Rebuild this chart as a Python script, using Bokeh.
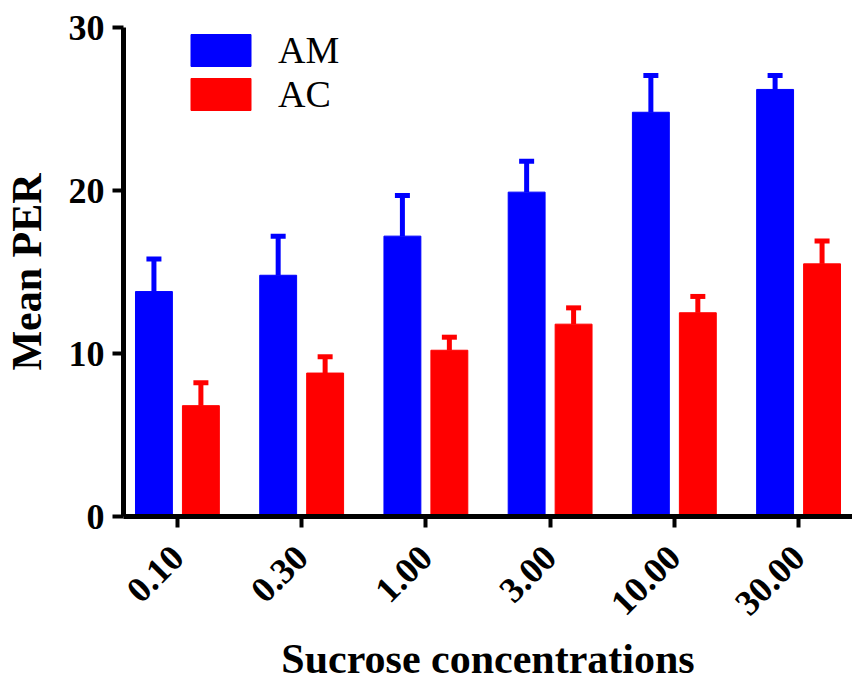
from bokeh.plotting import figure
from bokeh.models import ColumnDataSource, Whisker, TeeHead, FixedTicker, Legend, LegendItem, Range1d
from bokeh.embed import file_html
from bokeh.resources import INLINE
import math

categories = ["0.10", "0.30", "1.00", "3.00", "10.00", "30.00"]
am_mean = [13.8, 14.8, 17.2, 19.9, 24.8, 26.2]
am_err = [2.0, 2.4, 2.5, 1.9, 2.25, 0.85]
ac_mean = [6.8, 8.8, 10.2, 11.8, 12.5, 15.5]
ac_err = [1.4, 1.0, 0.8, 1.0, 1.0, 1.4]

FONT = "Liberation Serif"
xs = list(range(len(categories)))
off = 0.189
bw = 0.297

p = figure(width=852, height=684, output_backend="svg", toolbar_location=None,
           x_range=Range1d(-0.434, 5.434), y_range=Range1d(0, 30),
           min_border_left=122, min_border_right=0, min_border_top=27, min_border_bottom=10)
p.outline_line_color = None
p.grid.visible = False
p.background_fill_color = "white"

am_src = ColumnDataSource(dict(x=[x - off for x in xs], top=am_mean,
                               up=[m + e for m, e in zip(am_mean, am_err)]))
ac_src = ColumnDataSource(dict(x=[x + off for x in xs], top=ac_mean,
                               up=[m + e for m, e in zip(ac_mean, ac_err)]))

for src, col in ((am_src, "#0000ff"), (ac_src, "#ff0000")):
    w = Whisker(source=src, base="x", lower="top", upper="up", dimension="height",
                line_color=col, line_width=5, lower_head=None,
                upper_head=TeeHead(size=15, line_color=col, line_width=5))
    p.add_layout(w)

r_am = p.vbar(x="x", top="top", width=bw, bottom=0, source=am_src, fill_color="#0000ff", line_color="#0000ff")
r_ac = p.vbar(x="x", top="top", width=bw, bottom=0, source=ac_src, fill_color="#ff0000", line_color="#ff0000")

legend = Legend(items=[LegendItem(label="AM", renderers=[r_am]), LegendItem(label="AC", renderers=[r_ac])],
                location=(60, 400), padding=0, margin=0, spacing=0,
                glyph_width=75, glyph_height=40, label_height=44, label_standoff=20,
                label_text_font=FONT, label_text_font_size="38px", label_text_color="black",
                border_line_color=None, background_fill_alpha=0)
p.add_layout(legend, "center")

p.xaxis.ticker = FixedTicker(ticks=xs)
p.xaxis.major_label_overrides = {i: c for i, c in enumerate(categories)}
p.xaxis.major_label_orientation = math.pi / 4
p.yaxis.ticker = FixedTicker(ticks=[0, 10, 20, 30])

for ax in (p.xaxis, p.yaxis):
    ax.axis_line_width = 5
    ax.axis_line_color = "black"
    ax.major_tick_line_width = 4
    ax.major_tick_line_color = "black"
    ax.major_tick_in = 0
    ax.major_tick_out = 11
    ax.minor_tick_line_color = None
    ax.major_label_text_font = FONT
    ax.major_label_text_font_style = "bold"
    ax.major_label_text_color = "black"
    ax.axis_label_text_font = FONT
    ax.axis_label_text_font_style = "bold"
    ax.axis_label_text_color = "black"

p.yaxis.major_label_text_font_size = "36px"
p.xaxis.major_label_text_font_size = "36px"
p.yaxis.axis_label = "Mean PER"
p.xaxis.axis_label = "Sucrose concentrations"
p.yaxis.axis_label_text_font_size = "42px"
p.xaxis.axis_label_text_font_size = "42px"
p.yaxis.major_label_standoff = 8
p.xaxis.major_label_standoff = 24
p.yaxis.axis_label_standoff = 16
p.xaxis.axis_label_standoff = 7

open("out.html", "w").write(file_html(p, INLINE))
